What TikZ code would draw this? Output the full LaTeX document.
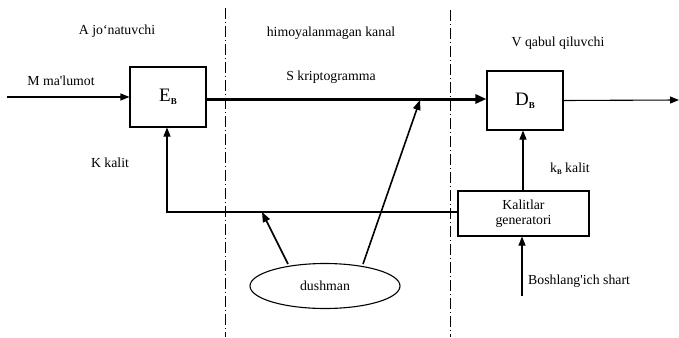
\documentclass[tikz,border=0pt]{standalone}
\usepackage{fontspec}
\setmainfont{Liberation Serif}
\usetikzlibrary{arrows.meta,shapes.geometric}
\begin{document}
\begin{tikzpicture}[x=1pt,y=-1pt,
  lbl/.style={font=\fontsize{13.8}{15}\selectfont, inner sep=0pt},
  blk/.style={draw, line width=1.1pt, inner sep=0pt},
  arr/.style={line width=1.1pt,-{Triangle[length=9pt,width=7pt]}},
  earr/.style={line width=1.6pt,-{Triangle[length=10pt,width=7.5pt]}},
  thickarr/.style={line width=3pt,-{Triangle[length=11pt,width=9pt]}},
  sep/.style={line width=0.9pt, dash pattern=on 11pt off 3pt on 1pt off 3pt}]
\useasboundingbox (0,0) rectangle (679,337);
% separators
\draw[sep] (225,8) -- (225,337);
\draw[sep] (450,10) -- (450,337);
% headings
\node[lbl] (hA) at (117,31) {A jo`natuvchi};
\node[lbl] (hK) at (331,33) {himoyalanmagan kanal};
\node[lbl] (hV) at (558,43) {V qabul qiluvchi};
\node[lbl] (lS) at (331,77) {S kriptogramma};
% boxes
\node[blk, minimum width=76pt, minimum height=60pt] (E) at (168,97) {\fontsize{19}{20}\selectfont E\raisebox{-0.3ex}{\fontsize{9}{9}\selectfont\bfseries B}};
\node[blk, minimum width=76pt, minimum height=59pt] (D) at (525,100.5) {\fontsize{19}{20}\selectfont D\raisebox{-0.3ex}{\fontsize{9}{9}\selectfont\bfseries B}};
\node[blk, minimum width=131pt, minimum height=45pt, align=center, font=\fontsize{13.8}{15}\selectfont] (G) at (523.5,213.5) {Kalitlar\\generatori};
\node[draw, ellipse, line width=1.1pt, minimum width=150pt, minimum height=45pt, inner sep=0pt, font=\fontsize{13.8}{15}\selectfont] (dush) at (325,286) {dushman};
% input
\coordinate (in) at (7,97);
\node[lbl] (lM) at (61,81) {M ma\textquotesingle lumot};
\draw[arr] (in) -- (E.west);
% cryptogram
\draw[thickarr] (E.east |- 0,99) -- (D.west |- 0,99);
% output
\coordinate (out) at (679,100);
\draw[arr] (D.east) -- (out);
% key to D
\draw[arr] (G.north -| 523,0) -- (D.south -| 523,0);
\node[lbl, anchor=west] (lkB) at (550,169) {k\raisebox{-0.3ex}{\fontsize{7}{7}\selectfont\bfseries B} kalit};
% initial condition
\coordinate (bs) at (522,296);
\draw[arr] (bs) -- (G.south -| 522,0);
\node[lbl, anchor=west] (lB) at (528,281) {Boshlang\textquotesingle ich shart};
% key to E
\coordinate (kc) at (167,212);
\draw[arr] (G.west |- 0,212) -- (kc) -- (E.south -| 167,0);
\node[lbl] (lK) at (110,163) {K kalit};
% enemy
\coordinate (t1) at (262,212);
\coordinate (t2) at (420,100);
\draw[earr] (288,264) -- (t1);
\draw[earr] (363,264) -- (t2);
\end{tikzpicture}
\end{document}
